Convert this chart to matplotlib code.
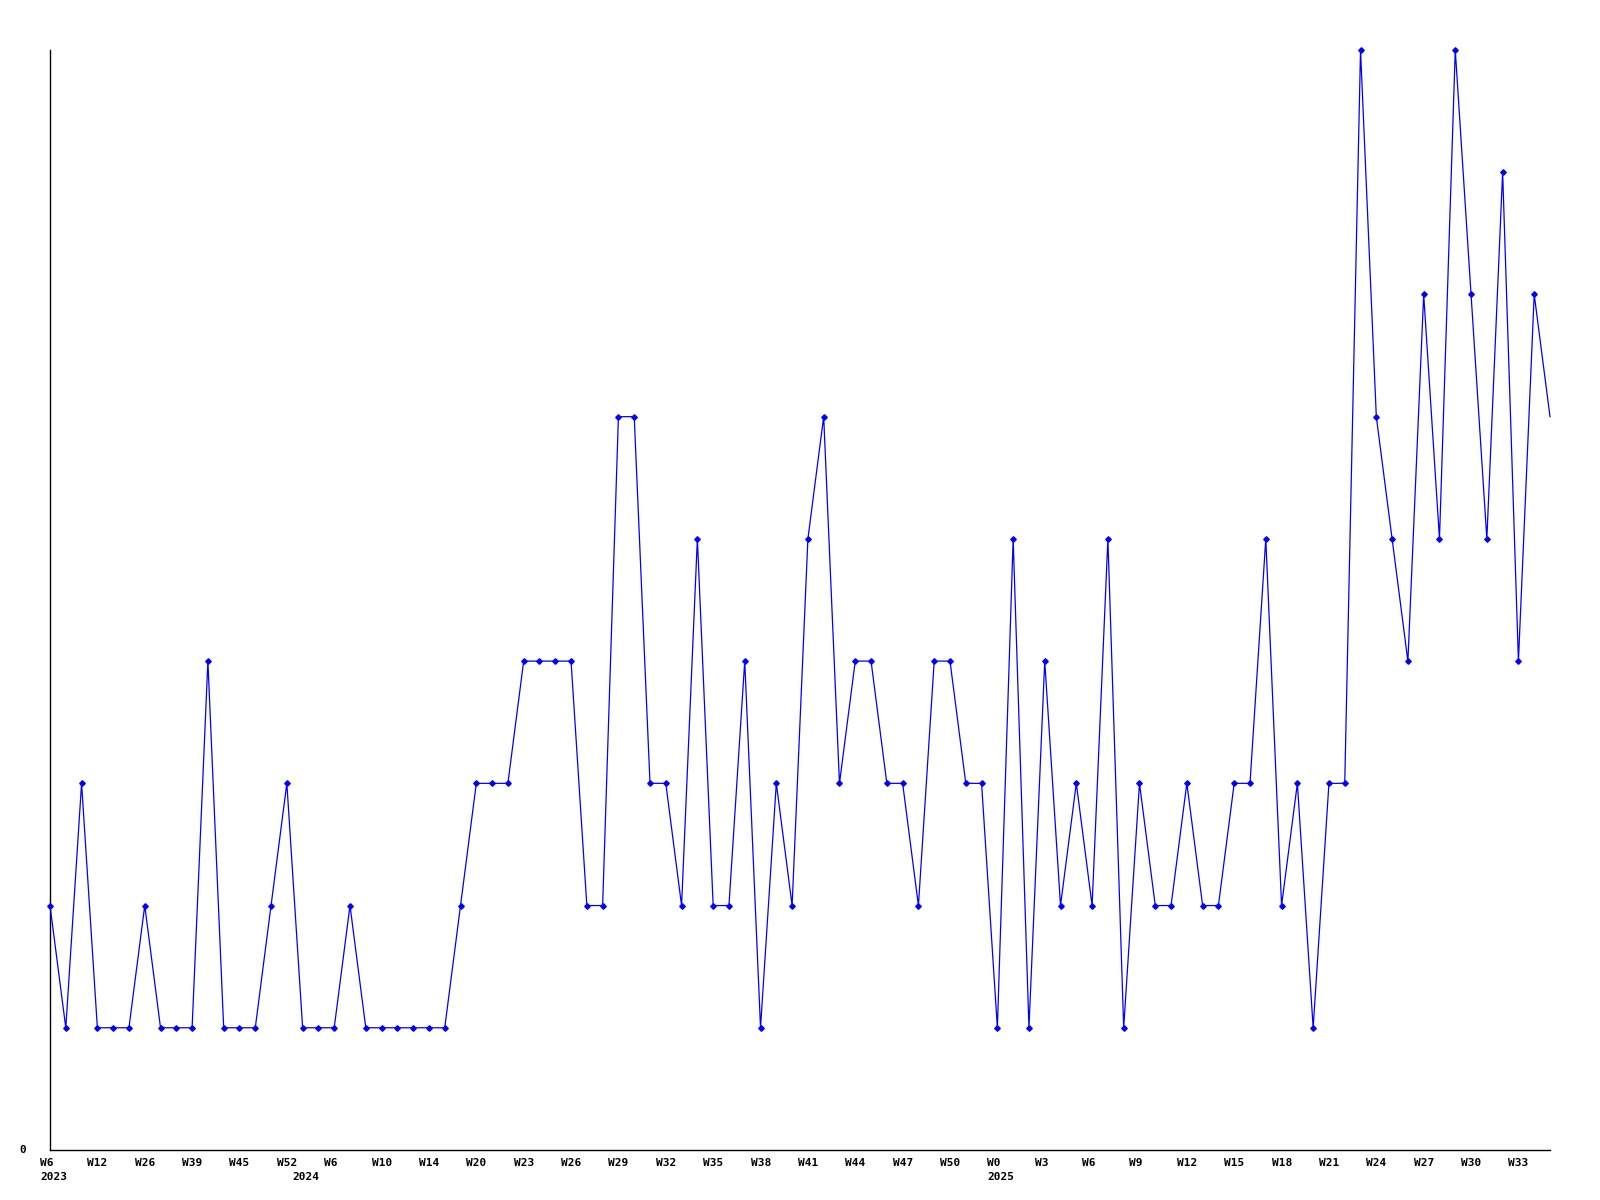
import matplotlib
matplotlib.use("Agg")
import matplotlib.pyplot as plt
import matplotlib.transforms as mtransforms

# weekly counts, one per point (categorical x axis)
values = [
    2, 1, 3, 1, 1, 1, 2, 1, 1, 1, 4, 1, 1, 1, 2, 3,
    1, 1, 1, 2, 1, 1, 1, 1, 1, 1, 2, 3, 3, 3, 4, 4,
    4, 4, 2, 2, 6, 6, 3, 3, 2, 5, 2, 2, 4, 1, 3, 2,
    5, 6, 3, 4, 4, 3, 3, 2, 4, 4, 3, 3, 1, 5, 1, 4,
    2, 3, 2, 5, 1, 3, 2, 2, 3, 2, 2, 3, 3, 5, 2, 3,
    1, 3, 3, 9, 6, 5, 4, 7, 5, 9, 7, 5, 8, 4, 7, 6,
]

week_labels = [
    "W6", "W12", "W26", "W39", "W45", "W52", "W6", "W10", "W14", "W20", "W23",
    "W26", "W29", "W32", "W35", "W38", "W41", "W44", "W47", "W50", "W0", "W3",
    "W6", "W9", "W12", "W15", "W18", "W21", "W24", "W27", "W30", "W33",
]
label_step = 3

years = ["2023", "2024", "2025"]
year_index = [0, 16, 60]

font = "DejaVu Sans Mono"

fig = plt.figure(figsize=(16, 12), dpi=100)
ax = fig.add_axes([50 / 1600, 50 / 1200, 1500 / 1600, 1100 / 1200])

x = list(range(len(values)))
ax.plot(x, values, color="#0000ff", linewidth=0.9, marker="D", markersize=2.8,
        markevery=list(range(len(values) - 1)), clip_on=False, zorder=3)

ax.set_xlim(0, len(values) - 1)
ax.set_ylim(0, 9)

for side in ("top", "right"):
    ax.spines[side].set_visible(False)
for side in ("left", "bottom"):
    ax.spines[side].set_linewidth(1.0)
    ax.spines[side].set_color("black")

# x labels are drawn as text so they can start a bit left of their point
ax.set_xticks([])
trans = mtransforms.blended_transform_factory(ax.transData, ax.transAxes)
week_row = trans + mtransforms.ScaledTranslation(-0.10, -0.075, fig.dpi_scale_trans)
year_row = trans + mtransforms.ScaledTranslation(-0.10, -0.225, fig.dpi_scale_trans)

for i, wk in enumerate(week_labels):
    ax.text(i * label_step, 0, wk, transform=week_row, ha="left", va="top",
            fontfamily=font, fontweight="bold", fontsize=8)
for yr, idx in zip(years, year_index):
    ax.text(idx, 0, yr, transform=year_row, ha="left", va="top",
            fontfamily=font, fontweight="bold", fontsize=8)

ax.set_yticks([0])
ax.set_yticklabels(["0"], fontfamily=font, fontweight="bold", fontsize=8)
ax.tick_params(axis="y", length=0, pad=17)
for lbl in ax.get_yticklabels():
    lbl.set_verticalalignment("center")

fig.savefig("out.png", dpi=100, facecolor="white")
